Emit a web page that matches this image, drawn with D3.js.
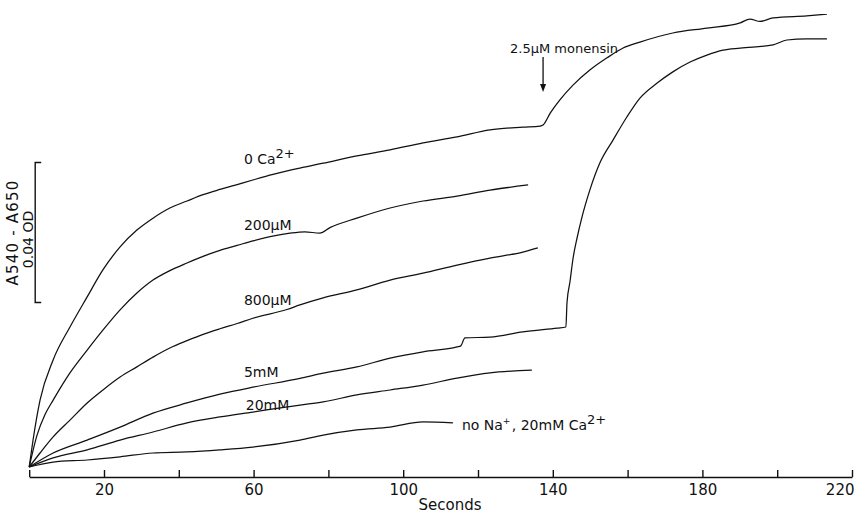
<!DOCTYPE html>
<html>
<head>
<meta charset="utf-8">
<script src="https://cdn.jsdelivr.net/npm/d3@7/dist/d3.min.js"></script>
<style>
body { margin: 0; background: #fff; }
svg { display: block; font-family: "DejaVu Sans", Arial, sans-serif; }
</style>
</head>
<body>
<svg id="chart" width="860" height="513"></svg>
<script>
// time in seconds, change of A540-A650 in mOD (0.04 OD = 40)
var time0Ca = [0, 1, 2.9, 6.4, 10.9, 15.5, 19.7, 24.3, 28.8, 33.1, 37.6, 42.2, 46.5, 51.0, 55.6, 59.8, 65.2, 72.4, 78.6, 87.6, 96.5, 105.3, 114.4, 123.2, 132.0, 136.6, 137.4,
    139.3, 141.9, 145.4, 149.9, 154.5, 158.8, 163.3, 172.1, 181.2, 190.1, 192.7, 195.4, 198.9, 207.9, 213.3];
var abs0Ca = [0, 7.5, 19.1, 30.6, 40.0, 48.6, 56.3, 62.9, 67.7, 71.1, 74.0, 76.0, 77.8, 79.3, 80.7, 82.0, 83.6, 85.4, 86.8, 88.9, 90.6, 92.6, 94.3, 96.3, 97.1, 97.4, 97.7,
    101.1, 104.9, 109.1, 113.4, 116.9, 119.7, 121.4, 124.0, 125.4, 126.9, 128.0, 127.3, 128.3, 128.9, 129.4];

var time200uM = [0, 2.1, 4.2, 6.4, 10.9, 15.5, 19.7, 24.3, 28.8, 33.1, 37.6, 42.2, 46.5, 51.0, 55.6, 59.8, 64.4, 69.7, 73.7, 77.7, 80.4, 87.6, 96.5, 105.3, 114.4, 123.2, 133.4];
var abs200uM = [0, 9.1, 14.9, 19.1, 26.9, 33.4, 39.1, 44.9, 49.7, 53.4, 56.1, 58.3, 60.2, 61.9, 63.3, 64.6, 65.8, 66.8, 67.2, 66.8, 68.4, 71.1, 74.0, 76.0, 77.4, 79.1, 80.6];

var time800uM = [0, 2.9, 6.4, 10.9, 15.5, 19.7, 24.3, 28.8, 33.1, 37.6, 42.2, 46.5, 51.0, 55.6, 59.8, 68.9, 72.4, 78.6, 87.6, 96.5, 105.3, 114.4, 123.2, 132.0, 136.0];
var abs800uM = [0, 4.0, 8.6, 13.4, 18.3, 22.0, 25.7, 28.6, 31.4, 34.0, 36.1, 37.9, 39.5, 41.0, 42.5, 45.0, 46.3, 48.3, 50.6, 53.4, 55.4, 57.7, 59.7, 61.4, 62.6];

var time5mM = [0, 6.4, 15.5, 24.3, 33.1, 42.2, 51.0, 59.8, 72.4, 78.6, 87.6, 96.5, 105.3, 114.4, 115.4, 116.5, 123.2, 132.0, 141.2, 143.5,
    143.8, 144.6, 145.4, 146.5, 147.8, 149.9, 152.6, 156.1, 159.8, 163.3, 167.9, 172.1, 176.7, 181.2, 185.5, 190.1, 198.9, 202.6, 207.9, 213.3];
var abs5mM = [0, 4.0, 7.7, 11.4, 15.4, 18.3, 20.8, 22.8, 25.3, 26.8, 28.6, 31.1, 32.9, 34.3, 34.6, 36.9, 37.1, 38.6, 39.7, 40.0,
    47.0, 53.0, 59.5, 65.5, 71.4, 79.1, 86.9, 93.4, 100.0, 105.4, 109.7, 112.9, 115.7, 117.7, 119.1, 119.7, 120.6, 122.0, 122.3, 122.3];

var time20mM = [0, 6.4, 15.5, 24.3, 33.1, 42.2, 51.0, 59.8, 72.4, 78.6, 87.6, 96.5, 105.3, 114.4, 123.2, 134.4];
var abs20mM = [0, 2.6, 4.9, 7.7, 10.0, 12.6, 14.3, 15.7, 17.7, 18.6, 20.6, 22.0, 23.4, 25.4, 26.9, 27.7];

var timeNoNa = [0, 6.4, 15.5, 24.3, 33.1, 42.2, 51.0, 59.8, 72.4, 78.6, 87.6, 96.5, 105.3, 113.3];
var absNoNa = [0, 1.4, 2.0, 2.9, 4.0, 4.3, 4.9, 5.7, 7.7, 9.1, 10.6, 11.4, 12.9, 12.6];

var traceLabels = ["0 Ca^{2+}", "200µM", "800µM", "5mM", "20mM", "no Na^{+}, 20mM Ca^{2+}"];
var xTicks = [0, 20, 40, 60, 80, 100, 120, 140, 160, 180, 200, 220];
var xTickLabels = ["", "20", "", "60", "", "100", "", "140", "", "180", "", "220"];
var monensinTime = 137.4;
var scaleBar = [47, 87]; // 0.04 OD

var svg = d3.select("#chart");

var x = d3.scaleLinear().domain([0, 220]).range([29.2, 852]);
var y = d3.scaleLinear().domain([0, 130]).range([467, 12]);

var line = d3.line()
    .x(function(d) { return x(d[0]); })
    .y(function(d) { return y(d[1]); })
    .curve(d3.curveMonotoneX);

var traces = [
    { t: time0Ca, a: abs0Ca, lt: 57.4, la: 86.6 },
    { t: time200uM, a: abs200uM, lt: 57.4, la: 67.7 },
    { t: time800uM, a: abs800uM, lt: 57.4, la: 46.3 },
    { t: time5mM, a: abs5mM, lt: 57.4, la: 25.7 },
    { t: time20mM, a: abs20mM, lt: 57.9, la: 16.3 },
    { t: timeNoNa, a: absNoNa, lt: 115.7, la: 10.6 }
];

svg.selectAll("path.trace")
    .data(traces)
    .enter()
    .append("path")
    .attr("class", "trace")
    .attr("d", function(d) { return line(d3.zip(d.t, d.a)); })
    .attr("fill", "none")
    .attr("stroke", "#111")
    .attr("stroke-width", 1.25)
    .attr("stroke-linejoin", "round");

// labels, ^{..} becomes a raised part
function addLabel(sel, str) {
    str.split(/(\^\{[^}]*\})/).forEach(function(part) {
        if (!part) return;
        if (part.charAt(0) == "^") {
            var sup = part.slice(2, -1);
            sel.append("tspan").attr("dy", -6).attr("font-size", sup == "+" ? 9 : 13).text(sup);
            sel.append("tspan").attr("dy", 6).text("\u200a");
        } else {
            sel.append("tspan").text(part);
        }
    });
}

svg.selectAll("text.lab")
    .data(traces)
    .enter()
    .append("text")
    .attr("class", "lab")
    .attr("x", function(d) { return x(d.lt); })
    .attr("y", function(d) { return y(d.la); })
    .attr("font-size", 14)
    .attr("fill", "#111")
    .each(function(d, i) { addLabel(d3.select(this), traceLabels[i]); });

// x axis
var axisY = y(0) + 10;
var axis = d3.axisBottom(x)
    .tickValues(xTicks)
    .tickSize(-7)
    .tickSizeOuter(0)
    .tickPadding(7)
    .tickFormat(function(d, i) { return xTickLabels[i]; });

var gx = svg.append("g")
    .attr("transform", "translate(0," + axisY + ")")
    .call(axis);
gx.select(".domain").attr("stroke", "#111").attr("stroke-width", 1.6);
gx.selectAll(".tick line").attr("stroke", "#111").attr("stroke-width", 1.4);
gx.selectAll(".tick text").attr("font-size", 15).attr("fill", "#111")
    .attr("font-family", "\"DejaVu Sans\", Arial, sans-serif");
gx.selectAll(".tick text").filter(function(d) { return d == 220; })
    .attr("text-anchor", "end").attr("dx", 2);

svg.append("text")
    .attr("x", 450)
    .attr("y", axisY + 33)
    .attr("text-anchor", "middle")
    .attr("font-size", 15)
    .attr("fill", "#111")
    .text("Seconds");

// monensin arrow
var mIdx = time0Ca.indexOf(monensinTime);
var ax = x(monensinTime);
var tipY = y(abs0Ca[mIdx]) - 33;
svg.append("line")
    .attr("x1", ax).attr("x2", ax)
    .attr("y1", tipY - 35).attr("y2", tipY - 4)
    .attr("stroke", "#111").attr("stroke-width", 1.3);
svg.append("path")
    .attr("d", "M" + (ax - 3) + "," + (tipY - 8) + "L" + (ax + 3) + "," + (tipY - 8) + "L" + ax + "," + tipY + "Z")
    .attr("fill", "#111");
svg.append("text")
    .attr("x", ax - 33)
    .attr("y", tipY - 39)
    .attr("font-size", 13)
    .attr("fill", "#111")
    .text("2.5µM monensin");

// scale bar
var bx = x(0) + 6;
svg.append("path")
    .attr("d", "M" + (bx + 6) + "," + y(scaleBar[1]) + "H" + bx + "V" + y(scaleBar[0]) + "H" + (bx + 6))
    .attr("fill", "none")
    .attr("stroke", "#111")
    .attr("stroke-width", 1.4);
var midY = (y(scaleBar[0]) + y(scaleBar[1])) / 2;
svg.append("text")
    .attr("transform", "translate(" + (bx - 17) + "," + midY + ") rotate(-90)")
    .attr("text-anchor", "middle")
    .attr("font-size", 15)
    .attr("letter-spacing", 1.2)
    .attr("fill", "#111")
    .text("A540 - A650");
svg.append("text")
    .attr("transform", "translate(" + (bx - 2) + "," + (midY + 7) + ") rotate(-90)")
    .attr("text-anchor", "middle")
    .attr("font-size", 14)
    .attr("fill", "#111")
    .text("0.04 OD");
</script>
</body>
</html>
